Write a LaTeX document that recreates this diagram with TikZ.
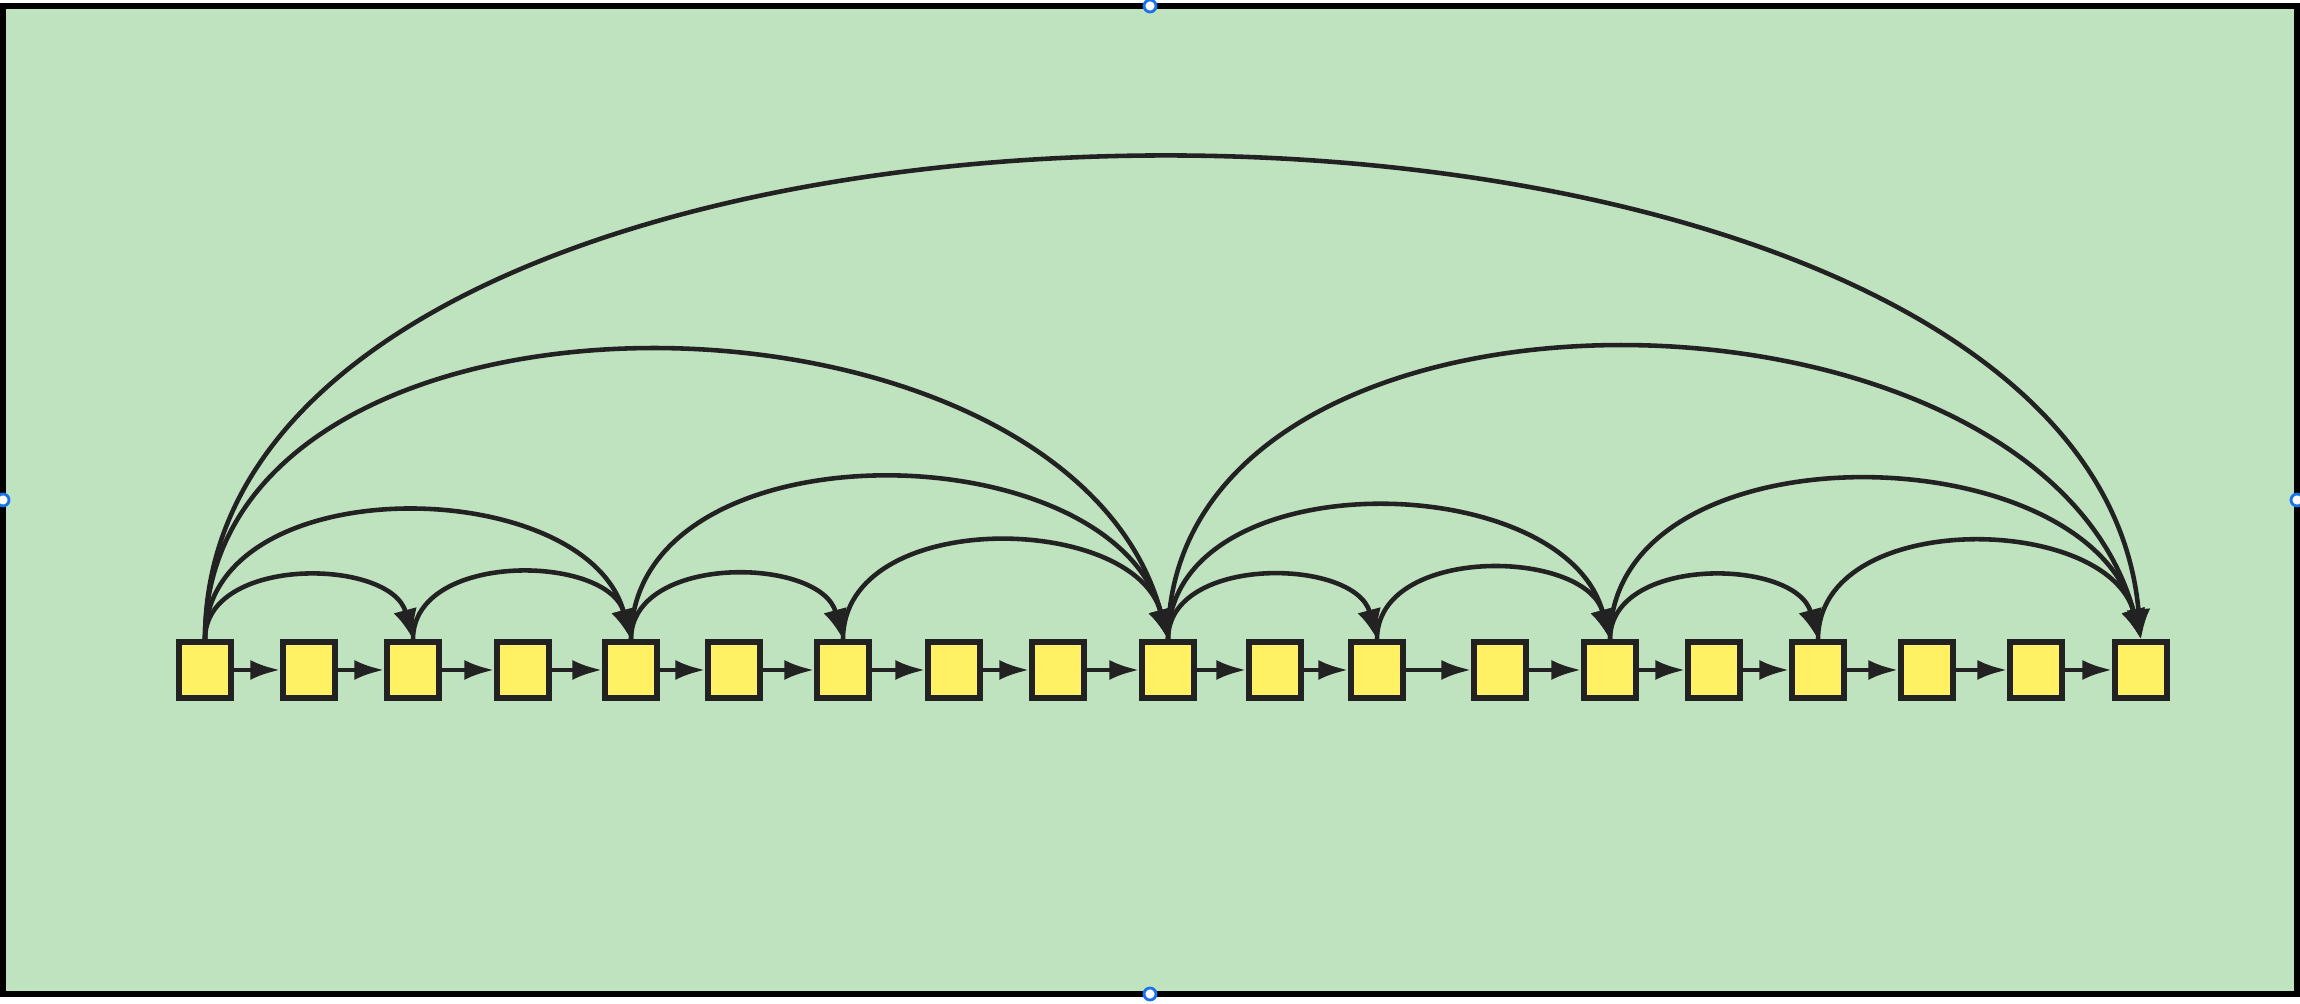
\documentclass[tikz,border=0pt]{standalone}
\usepackage{xcolor}
\usetikzlibrary{arrows.meta, positioning}
\definecolor{paneGreen}{RGB}{191,226,191}
\definecolor{cellYellow}{RGB}{255,240,100}
\definecolor{ink}{RGB}{34,34,34}
\definecolor{handleBlue}{RGB}{26,115,232}

\begin{document}
\begin{tikzpicture}[
    x=0.01cm, y=0.01cm,
    >={Latex[length=0.3cm,width=0.2cm]},
    % Styles for the cells and their links
    cell/.style={draw=ink, fill=cellYellow, line width=1.5pt, minimum width=0.52cm, minimum height=0.56cm, inner sep=0pt},
    link/.style={draw=ink, line width=1.3pt, ->},
    jump/.style={draw=ink, line width=1.3pt, -{Latex[length=0.3cm,width=0.24cm]}, out=90, in=105},
    handle/.style={circle, draw=handleBlue, fill=white, line width=0.8pt, inner sep=0pt, minimum size=0.12cm}
]
    \useasboundingbox (0,0) rectangle (2300,1004);

    % 1. The pane
    \draw[black, line width=1.5pt, fill=paneGreen] (3,10) rectangle (2297,998);

    % 2. The cells of the list
    \foreach \x [count=\i from 0] in {205,309,413,523,631,734,843,954,1058,1168,1275,1377,1500,1610,1714,1818,1927,2036,2141} {
        \node[cell] (c\i) at (\x,334) {};
    }

    % 3. Links between neighbours
    \foreach \i [count=\j from 1] in {0,...,17} {
        \draw[link] (c\i) -- (c\j);
    }

    % 4. Skip links (one level per row)
    \foreach \s/\t/\lo in {0/2/1.04, 2/4/1.04, 4/6/1.04, 6/9/1.04, 9/11/1.04, 11/13/1.04, 13/15/1.04, 15/18/1.04,
                          0/4/1.04, 4/9/1.04, 9/13/1.04, 13/18/1.04,
                          0/9/1.04, 9/18/1.04} {
        \draw[jump, looseness=\lo] (c\s.north) to (c\t.north);
    }
    % the long one over the whole list
    \draw[jump, in=95, looseness=0.85] (c0.north) to (c18.north);

    % 5. Handles on the pane
    \node[handle] (hTop) at (1150,998) {};
    \node[handle] (hBottom) at (1150,10) {};
    \node[handle] (hLeft) at (3,504) {};
    \node[handle] (hRight) at (2297,504) {};

\end{tikzpicture}
\end{document}
